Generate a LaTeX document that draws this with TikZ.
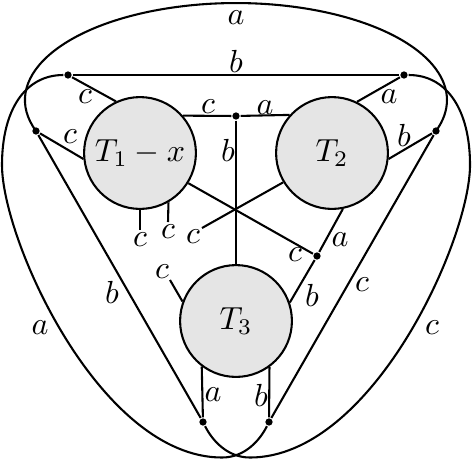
\documentclass[tikz,border=0pt]{standalone}
\usepackage{amsmath,amssymb}
\usepackage{tikz}
\usetikzlibrary{positioning}

\tikzset{
  tree/.style={circle,draw,fill=gray!20,minimum size=12.3mm,inner sep=0pt},
  dot/.style={circle,fill,inner sep=0pt,minimum size=0.8mm},
  lbl/.style={inner sep=0pt}
}

\begin{document}
\begin{tikzpicture}[x=0.11mm,y=0.11mm,line width=0.65pt]
\useasboundingbox (0,0) rectangle (473,459);

% the three subtrees
\node[tree] (t1) at (140,306) {$T_1-x$};
\node[tree] (t2) at (332,306) {$T_2$};
\node[tree] (t3) at (236,138) {$T_3$};

% branch vertices
\node[dot] (tl) at (68,384) {};
\node[dot] (tr) at (404,384) {};
\node[dot] (ml) at (36,328) {};
\node[dot] (mr) at (436,328) {};
\node[dot] (mc) at (236,343) {};
\node[dot] (md) at (317,203) {};
\node[dot] (bl) at (203,37) {};
\node[dot] (br) at (269,37) {};

% free ends of the pendant edges
\coordinate (e1) at (140,229);
\coordinate (e2) at (168,237);
\coordinate (e3) at (202,231);
\coordinate (e4) at (170,179);

% straight edges
\draw (tl) -- (tr);
\draw (tl) -- (t1.115);
\draw (ml) -- (t1.186);
\draw (tr) -- (t2.64);
\draw (mr) -- (t2.354);
\draw (t1.41.4) -- (mc) -- (t2.138.6);
\draw (mc) -- (t3.north);
\draw (t1.328.5) -- (md);
\draw (t2.211.5) -- (e3);
\draw (t2.281) -- (md) -- (t3.19.4);
\draw (t1.south) -- (e1);
\draw (t1.300) -- (e2);
\draw (t3.160) -- (e4);
\draw (t3.233.9) -- (bl);
\draw (t3.306.1) -- (br);
\draw (ml) -- (bl);
\draw (mr) -- (br);

% curved edges
\draw (ml.center) arc[start angle=198.6,end angle=-18.6,x radius=211,y radius=97];
\draw (tl) .. controls (25,384) and (2,349) .. (2,294)
  .. controls (2,219) and (100,1.5) .. (222,1.5)
  .. controls (245,1.5) and (260,19) .. (br);
\draw (tr) .. controls (447,384) and (470,349) .. (470,294)
  .. controls (470,219) and (372,1.5) .. (250,1.5)
  .. controls (227,1.5) and (212,19) .. (bl);

% colour labels
\foreach \px/\py/\txt [count=\i] in {236/441/a, 236/398/b, 85/362/c, 70/322/c,
  389/362/a, 404/324/b, 208/352/c, 265/351/a, 228/309/b, 140/219/c,
  168/227/c, 193/222/c, 295/204/c, 340/219/a, 312/164/b, 162/187/c,
  112/167/b, 362/174/c, 213/64/a, 261/64/b, 40/131/a, 432/131/c}{
  \node[lbl] (l\i) at (\px,\py) {$\txt$};
}
\end{tikzpicture}
\end{document}
